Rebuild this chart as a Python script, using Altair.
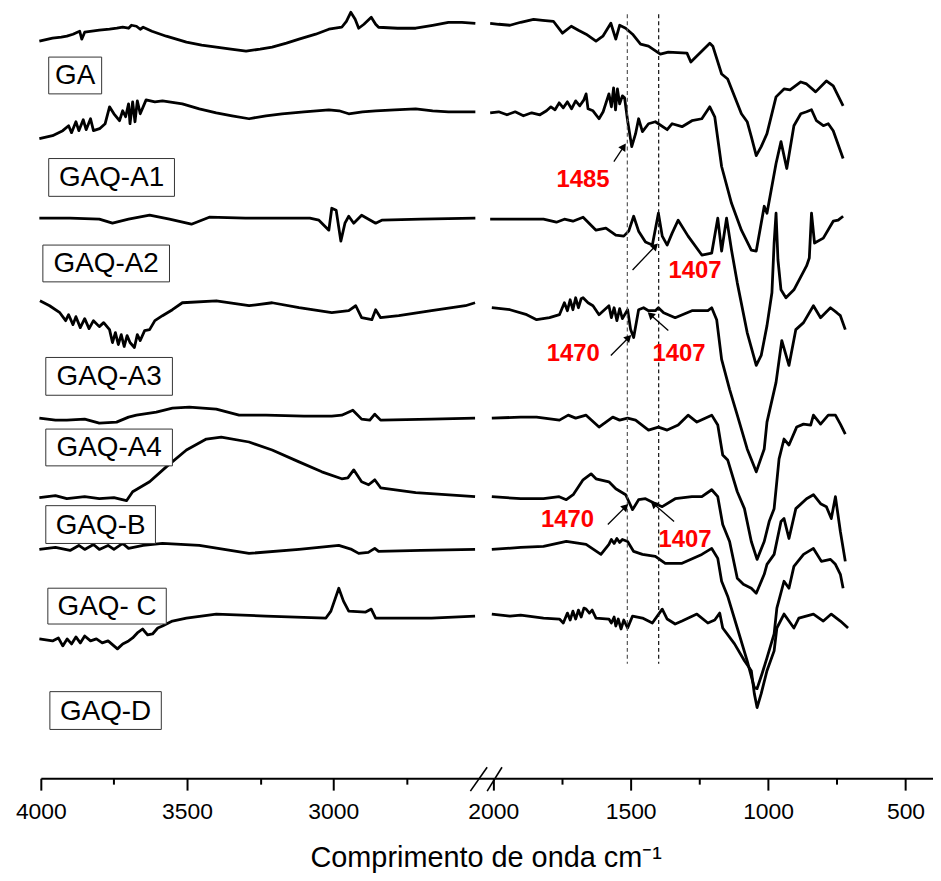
import math
import altair as alt
import pandas as pd

FONT = "Liberation Sans"

# ---------- spectra (wavenumber cm-1, offset transmittance a.u.) ----------
GA_L = [(4005,741),(3960,744),(3930,745),(3911,746),(3890,748),(3875,750),(3867,751),(3860,743),(3850,750),(3825,751),(3800,752),(3765,753),(3740,754),(3720,755),(3700,754),(3690,757),(3673,756),(3660,753),(3650,755),(3620,751),(3571,746),(3502,740),(3450,737),(3400,735),(3350,733),(3298,731),(3250,733),(3209,735),(3160,739),(3117,743),(3060,748),(3015,753),(2971,755),(2955,761),(2940,770),(2925,763),(2913,754),(2895,758),(2870,765),(2855,758),(2845,755),(2780,754),(2718,754),(2660,757),(2606,760),(2560,760),(2514,759)]
A1_L = [(4005,643),(3960,646),(3925,651),(3905,656),(3895,649),(3880,660),(3870,651),(3855,662),(3845,652),(3830,663),(3820,651),(3799,653),(3780,658),(3765,675),(3750,668),(3731,661),(3720,671),(3710,665),(3700,678),(3695,658),(3686,680),(3678,660),(3670,681),(3660,668),(3640,682),(3610,680),(3584,681),(3516,678),(3458,673),(3400,669),(3346,666),(3288,663),(3230,666),(3175,668),(3100,670),(3015,672),(2980,671),(2947,668),(2900,670),(2855,671),(2790,672),(2718,673),(2660,671),(2606,670),(2514,670)]
A2_L = [(4005,563),(3900,563),(3800,562),(3755,558),(3700,562),(3628,566),(3560,562),(3485,557),(3424,564),(3300,563),(3150,563),(3080,563),(3049,561),(3015,551),(3005,573),(2990,571),(2974,540),(2960,558),(2947,565),(2930,558),(2903,566),(2855,558),(2834,561),(2700,562),(2514,563)]
A3_L = [(4003,480),(3970,475),(3935,468),(3915,460),(3905,466),(3890,456),(3880,464),(3865,453),(3850,462),(3835,452),(3820,460),(3800,454),(3785,458),(3765,451),(3755,438),(3745,448),(3735,436),(3725,446),(3715,434),(3705,445),(3695,438),(3680,433),(3670,446),(3660,440),(3645,450),(3628,451),(3610,460),(3584,465),(3550,471),(3516,478),(3400,480),(3288,475),(3209,478),(3117,473),(3005,468),(2947,470),(2923,475),(2903,463),(2868,461),(2855,471),(2838,463),(2776,465),(2664,470),(2548,475),(2515,478)]
A4_L = [(4005,362),(3950,360),(3911,360),(3850,361),(3800,357),(3741,358),(3700,363),(3673,365),(3605,368),(3550,372),(3492,373),(3400,371),(3322,365),(3230,365),(3100,364),(3005,364),(2971,365),(2933,370),(2903,361),(2875,360),(2858,366),(2838,360),(2664,361),(2515,362)]
B_L = [(4005,282),(3950,284),(3911,281),(3850,283),(3800,281),(3750,282),(3707,279),(3686,288),(3628,298),(3571,313),(3502,330),(3434,341),(3383,343),(3288,338),(3209,330),(3117,318),(3039,308),(2971,301),(2950,302),(2930,310),(2903,298),(2879,295),(2858,300),(2838,292),(2718,287),(2515,283)]
C_L = [(4005,230),(3950,232),(3900,229),(3870,234),(3850,230),(3820,235),(3800,230),(3770,234),(3750,230),(3720,236),(3700,231),(3650,234),(3584,236),(3458,234),(3288,226),(3117,230),(2981,234),(2937,230),(2913,226),(2880,227),(2858,231),(2845,228),(2700,229),(2515,230)]
D_L = [(4005,140),(3960,138),(3940,141),(3925,133),(3910,140),(3895,135),(3880,142),(3865,136),(3850,143),(3830,138),(3810,140),(3790,136),(3770,138),(3750,133),(3738,130),(3720,135),(3700,138),(3686,141),(3670,146),(3652,150),(3635,144),(3618,145),(3600,151),(3584,153),(3550,158),(3502,161),(3400,165),(3230,163),(3025,161),(3008,168),(2981,191),(2965,178),(2947,168),(2889,167),(2870,170),(2855,161),(2664,161),(2515,163)]

GA_R = [(2011,759),(1980,758),(1939,757),(1900,760),(1853,763),(1820,762),(1781,761),(1748,749),(1716,756),(1690,752),(1662,748),(1626,741),(1601,746),(1572,759),(1554,743),(1540,757),(1518,754),(1493,748),(1464,738),(1435,736),(1392,728),(1363,730),(1295,729),(1281,720),(1259,726),(1212,739),(1201,736),(1169,708),(1147,703),(1097,668),(1076,660),(1061,645),(1043,626),(1025,635),(1004,648),(971,685),(942,693),(920,692),(881,700),(860,698),(827,690),(788,701),(763,696),(727,676)]
A1_R = [(2011,669),(1980,670),(1950,667),(1920,670),(1890,666),(1860,669),(1830,667),(1806,671),(1790,675),(1775,672),(1760,679),(1745,674),(1730,680),(1715,673),(1700,681),(1685,676),(1670,682),(1662,688),(1655,673),(1637,671),(1615,663),(1600,670),(1579,688),(1570,675),(1562,694),(1555,672),(1548,693),(1540,678),(1530,686),(1522,684),(1511,661),(1496,635),(1482,648),(1471,663),(1457,650),(1435,658),(1410,660),(1367,652),(1349,658),(1313,655),(1277,661),(1241,663),(1212,675),(1194,665),(1169,615),(1133,578),(1097,551),(1061,531),(1043,530),(1014,575),(1004,568),(971,618),(953,640),(932,613),(906,656),(881,668),(860,670),(842,672),(824,661),(799,656),(781,658),(763,651),(727,623)]
A2_R = [(2011,562),(1900,562),(1817,562),(1770,559),(1741,562),(1710,560),(1673,564),(1626,551),(1590,553),(1554,546),(1525,545),(1507,550),(1489,565),(1471,550),(1446,539),(1421,536),(1399,568),(1385,545),(1367,536),(1349,548),(1327,561),(1291,545),(1241,526),(1205,528),(1183,563),(1169,530),(1151,563),(1133,531),(1112,498),(1076,448),(1043,415),(1025,425),(1004,455),(986,488),(978,538),(971,568),(964,521),(953,491),(935,483),(906,491),(860,515),(850,523),(842,568),(831,538),(799,543),(763,560),(745,561),(727,565)]
A3_R = [(2005,473),(1939,471),(1878,466),(1842,461),(1795,463),(1759,466),(1741,478),(1730,470),(1720,481),(1710,471),(1700,483),(1690,473),(1680,482),(1673,483),(1655,478),(1637,475),(1615,466),(1579,475),(1570,463),(1560,473),(1550,460),(1540,472),(1530,462),(1511,471),(1500,451),(1489,443),(1471,471),(1453,473),(1435,470),(1410,470),(1399,473),(1380,468),(1338,463),(1277,470),(1219,470),(1205,473),(1187,461),(1169,421),(1140,391),(1112,365),(1076,331),(1043,308),(1014,331),(1004,358),(971,398),(950,440),(924,415),(899,451),(871,458),(835,475),(809,463),(773,473),(750,468),(737,465),(719,451)]
A4_R = [(2005,362),(1900,363),(1842,363),(1759,360),(1727,365),(1700,362),(1662,365),(1615,353),(1565,363),(1540,360),(1511,362),(1482,360),(1435,350),(1399,353),(1367,350),(1327,355),(1291,365),(1259,358),(1205,365),(1183,355),(1165,325),(1147,320),(1112,288),(1086,271),(1061,238),(1040,220),(1014,238),(996,258),(978,271),(960,321),(942,341),(924,335),(896,353),(871,356),(845,355),(835,365),(809,356),(781,365),(755,365),(737,356),(719,346)]
B_R = [(2005,283),(1900,281),(1817,281),(1760,283),(1734,280),(1709,285),(1673,300),(1644,306),(1626,301),(1579,298),(1554,291),(1518,285),(1493,270),(1471,280),(1446,281),(1410,276),(1385,273),(1338,281),(1277,283),(1241,283),(1205,290),(1183,283),(1165,255),(1140,238),(1112,201),(1090,195),(1061,191),(1043,186),(1014,205),(1004,215),(978,225),(953,258),(942,261),(924,241),(899,271),(860,281),(835,285),(809,276),(788,273),(770,261),(755,283),(737,248),(719,218)]
C_R = [(2005,230),(1900,232),(1817,233),(1734,238),(1662,235),(1608,225),(1579,235),(1570,240),(1560,236),(1550,241),(1540,237),(1530,240),(1511,238),(1489,228),(1457,225),(1410,223),(1374,216),(1313,216),(1241,225),(1205,231),(1183,221),(1169,198),(1147,183),(1112,151),(1076,118),(1050,91),(1040,90),(1022,105),(1004,121),(978,145),(968,171),(942,198),(924,191),(906,213),(871,225),(835,231),(806,218),(773,220),(755,215),(737,205),(727,191)]
D_R = [(2005,165),(1939,163),(1900,164),(1817,161),(1759,160),(1745,156),(1730,166),(1720,159),(1710,168),(1700,160),(1690,169),(1680,162),(1670,171),(1662,170),(1650,166),(1640,169),(1626,161),(1579,160),(1570,156),(1560,162),(1554,153),(1545,160),(1535,150),(1525,159),(1511,151),(1493,163),(1457,161),(1421,156),(1385,170),(1367,160),(1338,155),(1313,158),(1259,165),(1219,156),(1194,159),(1176,166),(1165,151),(1122,135),(1086,118),(1061,108),(1050,85),(1040,71),(1025,85),(1004,108),(978,128),(968,151),(942,165),(924,158),(906,151),(888,161),(835,165),(799,158),(770,165),(737,158),(709,151)]

SAMPLES = ["GA", "GAQ-A1", "GAQ-A2", "GAQ-A3", "GAQ-A4", "GAQ-B", "GAQ-C", "GAQ-D"]
LEFT_SERIES = [GA_L, A1_L, A2_L, A3_L, A4_L, B_L, C_L, D_L]
RIGHT_SERIES = [GA_R, A1_R, A2_R, A3_R, A4_R, B_R, C_R, D_R]

# ---------- sample name boxes ----------
LABELS = ["GA", "GAQ-A1", "GAQ-A2", "GAQ-A3", "GAQ-A4", "GAQ-B", "GAQ- C", "GAQ-D"]
LABEL_WN_START = [3973, 3973, 3993, 3983, 3983, 3983, 3976, 3969]
LABEL_WN_END = [3792, 3543, 3560, 3550, 3550, 3608, 3571, 3588]
LABEL_TOP = [725, 623, 536, 423, 351, 274, 191, 87]
LABEL_BOTTOM = [688, 585, 499, 385, 314, 236, 155, 49]

# ---------- annotations ----------
PEAK_TEXT = ["1485", "1407", "1470", "1407", "1470", "1407"]
PEAK_WN = [1673, 1266, 1709, 1324, 1730, 1302]
PEAK_T = [601, 510, 426, 426, 260, 239]
ARROW_TAIL_WN = [1561, 1493, 1572, 1363, 1583, 1342]
ARROW_TAIL_T = [620, 511, 425, 450, 255, 258]
ARROW_HEAD_WN = [1525, 1410, 1507, 1428, 1518, 1417]
ARROW_HEAD_T = [635, 535, 443, 466, 273, 276]
REF_WN = [1512, 1398]
REF_COLOR = ["#555555", "#111111"]
REF_TOP = 768
REF_BOTTOM = 115
BREAK_WN_A = [2083, 2022]
BREAK_WN_B = [2022, 1968]
BREAK_T_A = -13
BREAK_T_B = 11

LEFT_DOMAIN = [2500, 4000]
RIGHT_DOMAIN = [400, 2050]
LEFT_TICKS = [4000, 3750, 3500, 3250, 3000, 2750]
RIGHT_TICKS = [2000, 1750, 1500, 1250, 1000, 750, 500]
Y_DOMAIN = [0, 770]
LEFT_W, RIGHT_W, H = 441, 456, 770


def frame(series):
    rows = []
    for name, pts in zip(SAMPLES, series):
        for i, (w, t) in enumerate(pts):
            rows.append({"sample": name, "wn": w, "t": t, "i": i})
    return pd.DataFrame(rows)


def xaxis(values):
    return alt.Axis(
        values=values, title=None, grid=False, format="d",
        domainColor="black", domainWidth=2, tickColor="black", tickWidth=2,
        tickSize={"condition": {"test": "datum.value % 500 === 0", "value": 12}, "value": 6},
        labelExpr="datum.value % 500 === 0 ? datum.label : ''",
        labelFont=FONT, labelFontSize=23, labelColor="black", labelPadding=11,
        labelFlush=False, labelOverlap=False, labelBound=False,
    )


def X(field, domain, ticks):
    return alt.X(field, type="quantitative",
                 scale=alt.Scale(domain=domain, reverse=True, nice=False, zero=False),
                 axis=xaxis(ticks))


def Y(field):
    return alt.Y(field, type="quantitative",
                 scale=alt.Scale(domain=Y_DOMAIN, nice=False, zero=False), axis=None)


def lines(series, domain, ticks):
    return alt.Chart(frame(series)).mark_line(color="black", strokeWidth=2.8, strokeJoin="round").encode(
        x=X("wn", domain, ticks), y=Y("t"), detail="sample:N", order="i:Q")


NO_BORDER = alt.ViewBackground(stroke="transparent", strokeWidth=0)

# left panel
box_df = pd.DataFrame({
    "label": LABELS, "w0": LABEL_WN_START, "w1": LABEL_WN_END,
    "top": LABEL_TOP, "bottom": LABEL_BOTTOM})
box_df["wm"] = (box_df["w0"] + box_df["w1"]) / 2
box_df["tm"] = (box_df["top"] + box_df["bottom"]) / 2

boxes = alt.Chart(box_df).mark_rect(fill="white", stroke="#333333", strokeWidth=1).encode(
    x=X("w0", LEFT_DOMAIN, LEFT_TICKS), x2="w1", y=Y("top"), y2="bottom")
box_text = alt.Chart(box_df).mark_text(font=FONT, fontSize=28, color="black", baseline="middle", align="center", dy=1).encode(
    x=X("wm", LEFT_DOMAIN, LEFT_TICKS), y=Y("tm"), text="label:N")

left = alt.layer(lines(LEFT_SERIES, LEFT_DOMAIN, LEFT_TICKS), boxes, box_text).properties(
    width=LEFT_W, height=H, view=NO_BORDER)

# right panel
ref_df = pd.DataFrame({"wn": REF_WN, "col": REF_COLOR, "top": REF_TOP, "bottom": REF_BOTTOM})
refs = alt.Chart(ref_df).mark_rule(strokeDash=[4, 3], strokeWidth=1.2).encode(
    x=X("wn", RIGHT_DOMAIN, RIGHT_TICKS), y=Y("top"), y2="bottom",
    color=alt.Color("col:N", scale=None))

px_per_wn = RIGHT_W / (RIGHT_DOMAIN[1] - RIGHT_DOMAIN[0])
angles = []
for tw, tt, hw, ht in zip(ARROW_TAIL_WN, ARROW_TAIL_T, ARROW_HEAD_WN, ARROW_HEAD_T):
    dx = -(hw - tw) * px_per_wn
    dy = -(ht - tt)
    angles.append(math.degrees(math.atan2(dx, -dy)) % 360)
arrow_df = pd.DataFrame({"tw": ARROW_TAIL_WN, "tt": ARROW_TAIL_T, "hw": ARROW_HEAD_WN, "ht": ARROW_HEAD_T, "ang": angles})
shafts = alt.Chart(arrow_df).mark_rule(color="black", strokeWidth=1.3).encode(
    x=X("tw", RIGHT_DOMAIN, RIGHT_TICKS), x2="hw", y=Y("tt"), y2="ht")
heads = alt.Chart(arrow_df).mark_point(shape="triangle-up", filled=True, color="black", size=70, opacity=1).encode(
    x=X("hw", RIGHT_DOMAIN, RIGHT_TICKS), y=Y("ht"), angle=alt.Angle("ang:Q", scale=None))

peak_df = pd.DataFrame({"txt": PEAK_TEXT, "wn": PEAK_WN, "t": PEAK_T})
peaks = alt.Chart(peak_df).mark_text(font=FONT, fontSize=24, fontWeight="bold", color="#ff0000", baseline="middle", align="center").encode(
    x=X("wn", RIGHT_DOMAIN, RIGHT_TICKS), y=Y("t"), text="txt:N")

brk_df = pd.DataFrame({"a": BREAK_WN_A, "b": BREAK_WN_B, "ta": BREAK_T_A, "tb": BREAK_T_B})
brk = alt.Chart(brk_df).mark_rule(color="black", strokeWidth=1.6).encode(
    x=X("a", RIGHT_DOMAIN, RIGHT_TICKS), x2="b", y=Y("ta"), y2="tb")

right = alt.layer(lines(RIGHT_SERIES, RIGHT_DOMAIN, RIGHT_TICKS), refs, shafts, heads, peaks, brk).properties(
    width=RIGHT_W, height=H, view=NO_BORDER)

chart = alt.hconcat(left, right, spacing=0, bounds="flush").properties(
    padding={"left": 7, "top": 0, "right": 0, "bottom": 2},
    background="white",
    title=alt.TitleParams(text="Comprimento de onda cm⁻¹", orient="bottom", anchor="middle",
                          font=FONT, fontSize=29, fontWeight="normal", color="black", offset=20, dx=12),
).configure_view(strokeWidth=0, stroke="transparent")

chart.save("out.html", embed_options={"renderer": "svg", "actions": False})
